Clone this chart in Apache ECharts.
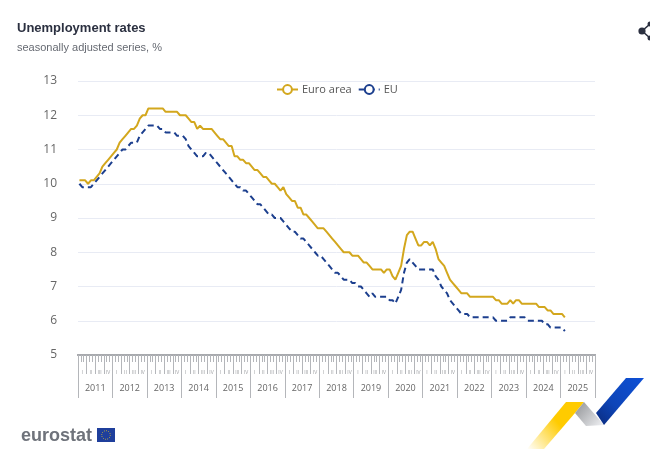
<!DOCTYPE html>
<html>
<head>
<meta charset="utf-8">
<style>
html, body { margin: 0; padding: 0; background: #fff; }
#main { width: 650px; height: 464px; }
</style>
<script src="https://cdn.jsdelivr.net/npm/echarts@6/dist/echarts.min.js"></script>
</head>
<body>
<div id="main"></div>
<script>
var years = ['2011', '2012', '2013', '2014', '2015', '2016', '2017', '2018', '2019', '2020', '2021', '2022', '2023', '2024', '2025'];
var quarterNames = ['I', 'II', 'III', 'IV'];
var yTicks = { min: 5, max: 13, interval: 1 };

// monthly values, one row per year
var euroArea = [
    10.1, 10.1, 10.1, 10.0, 10.1, 10.1, 10.2, 10.3, 10.5, 10.6, 10.7, 10.8,
    10.9, 11.0, 11.2, 11.3, 11.4, 11.5, 11.6, 11.6, 11.7, 11.9, 12.0, 12.0,
    12.2, 12.2, 12.2, 12.2, 12.2, 12.2, 12.1, 12.1, 12.1, 12.1, 12.1, 12.0,
    12.0, 12.0, 11.9, 11.8, 11.8, 11.6, 11.7, 11.6, 11.6, 11.6, 11.6, 11.5,
    11.4, 11.3, 11.3, 11.2, 11.1, 11.1, 10.8, 10.8, 10.7, 10.7, 10.6, 10.6,
    10.5, 10.4, 10.4, 10.3, 10.2, 10.2, 10.1, 10.0, 10.0, 9.9, 9.8, 9.9,
    9.7, 9.6, 9.5, 9.5, 9.3, 9.3, 9.1, 9.1, 9.0, 8.9, 8.8, 8.7,
    8.7, 8.7, 8.6, 8.5, 8.4, 8.3, 8.2, 8.1, 8.0, 8.0, 8.0, 7.9,
    7.9, 7.9, 7.8, 7.7, 7.7, 7.6, 7.5, 7.5, 7.5, 7.5, 7.4, 7.5,
    7.5, 7.3, 7.2, 7.4, 7.6, 8.1, 8.5, 8.6, 8.6, 8.4, 8.2, 8.2,
    8.3, 8.3, 8.2, 8.3, 8.1, 7.8, 7.7, 7.6, 7.4, 7.2, 7.1, 7.0,
    6.9, 6.8, 6.8, 6.8, 6.7, 6.7, 6.7, 6.7, 6.7, 6.7, 6.7, 6.7,
    6.7, 6.6, 6.6, 6.5, 6.5, 6.5, 6.6, 6.5, 6.6, 6.6, 6.5, 6.5,
    6.5, 6.5, 6.5, 6.5, 6.4, 6.4, 6.4, 6.3, 6.3, 6.2, 6.2, 6.2,
    6.2, 6.1
];
var eu = [
    10.0, 9.9, 9.9, 9.9, 9.9, 10.0, 10.1, 10.2, 10.3, 10.4, 10.5, 10.6,
    10.7, 10.8, 10.9, 11.0, 11.0, 11.1, 11.2, 11.2, 11.2, 11.4, 11.5, 11.6,
    11.7, 11.7, 11.7, 11.7, 11.6, 11.6, 11.5, 11.5, 11.5, 11.5, 11.4, 11.4,
    11.4, 11.3, 11.1, 11.0, 10.9, 10.8, 10.8, 10.8, 10.9, 10.9, 10.8, 10.7,
    10.6, 10.5, 10.4, 10.3, 10.2, 10.1, 10.0, 9.9, 9.9, 9.8, 9.8, 9.7,
    9.6, 9.5, 9.4, 9.4, 9.3, 9.2, 9.1, 9.1, 9.0, 9.0, 9.0, 8.9,
    8.8, 8.7, 8.6, 8.6, 8.5, 8.4, 8.4, 8.3, 8.2, 8.1, 8.0, 7.9,
    7.9, 7.8, 7.7, 7.6, 7.5, 7.4, 7.4, 7.3, 7.2, 7.2, 7.2, 7.1,
    7.1, 7.0, 7.0, 6.9, 6.8, 6.7, 6.8, 6.7, 6.7, 6.7, 6.7, 6.7,
    6.6, 6.6, 6.5, 6.7, 6.9, 7.4, 7.7, 7.8, 7.7, 7.6, 7.5, 7.5,
    7.5, 7.5, 7.5, 7.5, 7.3, 7.2, 7.0, 6.9, 6.8, 6.6, 6.5, 6.4,
    6.3, 6.2, 6.2, 6.2, 6.1, 6.1, 6.1, 6.1, 6.1, 6.1, 6.1, 6.1,
    6.1, 6.0, 6.0, 6.0, 6.0, 6.0, 6.1, 6.1, 6.1, 6.1, 6.1, 6.1,
    6.0, 6.0, 6.0, 6.0, 6.0, 6.0, 5.9, 5.9, 5.8, 5.8, 5.8, 5.8,
    5.8, 5.7
];

var months = [];
var quarters = [];
years.forEach(function(y) {
    quarterNames.forEach(function(q) {
        quarters.push(q);
        for (var m = 0; m < 3; m++) {
            months.push(y + '-' + q + '-' + m);
        }
    });
});

var tickColor = '#b4b6ba';
var grid = { left: 78, right: 55, top: 81, bottom: 109 };

function levelAxis(data, tickLen, label) {
    return {
        type: 'category',
        position: 'bottom',
        boundaryGap: true,
        data: data,
        silent: true,
        axisLine: { show: true, onZero: false, lineStyle: { color: '#a8aaae', width: 2 } },
        axisTick: { show: true, interval: 0, length: tickLen, lineStyle: { color: tickColor, width: 1 } },
        axisLabel: label || { show: false },
        splitLine: { show: false }
    };
}

var myChart = echarts.init(document.getElementById('main'), null, { renderer: 'canvas' });

var option = {
    animation: false,
    backgroundColor: '#fff',
    title: {
        text: 'Unemployment rates',
        subtext: 'seasonally adjusted series, %',
        left: 12,
        top: 17,
        itemGap: 7,
        textStyle: { fontFamily: 'Liberation Sans', fontSize: 13, fontWeight: 'bold', color: '#2b3040' },
        subtextStyle: { fontFamily: 'Liberation Sans', fontSize: 11, color: '#666a72' }
    },
    legend: {
        top: 84,
        left: 276,
        itemWidth: 21,
        itemHeight: 11,
        itemGap: 6,
        padding: 0,
        selectedMode: false,
        textStyle: { fontFamily: 'Open Sans', fontSize: 11, color: '#555', padding: [0, 0, 0, -1] },
        data: ['Euro area', 'EU']
    },
    grid: grid,
    xAxis: [
        levelAxis(months, 7),
        levelAxis(quarters, 19, { show: true, interval: 0, margin: 15, fontSize: 5, fontFamily: 'Open Sans', color: '#9a9ca0' }),
        levelAxis(years, 43, { show: true, interval: 0, margin: 29, fontSize: 9, fontFamily: 'Open Sans', color: '#666' })
    ],
    yAxis: {
        type: 'value',
        min: yTicks.min,
        max: yTicks.max,
        interval: yTicks.interval,
        axisLine: { show: false },
        axisTick: { show: false },
        axisLabel: { fontFamily: 'Open Sans', fontSize: 12, color: '#666', margin: 21 },
        splitLine: { lineStyle: { color: '#e8ebf4', width: 1 } }
    },
    series: [
        {
            name: 'Euro area',
            type: 'line',
            xAxisIndex: 0,
            data: euroArea,
            symbol: 'emptyCircle',
            symbolSize: 9,
            showSymbol: false,
            silent: true,
            lineStyle: { color: '#d3a71d', width: 2 },
            itemStyle: { color: '#d3a71d' }
        },
        {
            name: 'EU',
            type: 'line',
            xAxisIndex: 0,
            data: eu,
            symbol: 'emptyCircle',
            symbolSize: 9,
            showSymbol: false,
            silent: true,
            lineStyle: { color: '#1c3f8e', width: 2, type: [6, 4] },
            itemStyle: { color: '#1c3f8e' }
        }
    ],
    graphic: [
        // share icon, cut by the window edge
        { type: 'polyline', shape: { points: [[650, 24], [642, 31], [650, 38]] }, style: { stroke: '#2b3040', lineWidth: 1.5, fill: null } },
        { type: 'circle', shape: { cx: 642, cy: 31, r: 3.6 }, style: { fill: '#2b3040' } },
        { type: 'circle', shape: { cx: 650, cy: 24, r: 2.5 }, style: { fill: '#2b3040' } },
        { type: 'circle', shape: { cx: 650, cy: 38, r: 2.5 }, style: { fill: '#2b3040' } },
        // eurostat logo
        { type: 'text', left: 21, top: 427, style: { text: 'eurostat', fontFamily: 'Liberation Sans', fontWeight: 'bold', fontSize: 18, fill: '#6f737b' } },
        { type: 'rect', shape: { x: 97, y: 428, width: 18, height: 14 }, style: { fill: '#1f3f9c' } },
        { type: 'circle', shape: { cx: 106, cy: 435, r: 4.3 }, style: { fill: null, stroke: '#c9b23c', lineWidth: 1, lineDash: [1, 1.2] } },
        // chevrons
        {
            type: 'polygon',
            shape: { points: [[566, 402], [584, 402], [575, 413], [544, 449], [527, 449]] },
            style: { fill: new echarts.graphic.LinearGradient(1, 0, 0, 1, [
                { offset: 0, color: '#ffcb00' },
                { offset: 0.45, color: '#ffcb00' },
                { offset: 1, color: '#ffffff' }
            ]) }
        },
        {
            type: 'polygon',
            shape: { points: [[584, 402], [604, 425], [586, 426], [575, 413]] },
            style: { fill: new echarts.graphic.LinearGradient(0, 0, 1, 1, [
                { offset: 0, color: '#8f9194' },
                { offset: 1, color: '#f2f3f6' }
            ]) }
        },
        {
            type: 'polygon',
            shape: { points: [[626, 378], [644, 378], [604, 425], [596, 413]] },
            style: { fill: new echarts.graphic.LinearGradient(1, 0, 0, 1, [
                { offset: 0, color: '#0e50d6' },
                { offset: 0.6, color: '#0e45b8' },
                { offset: 1, color: '#0a2a7c' }
            ]) }
        }
    ]
};

myChart.setOption(option);
</script>
</body>
</html>
